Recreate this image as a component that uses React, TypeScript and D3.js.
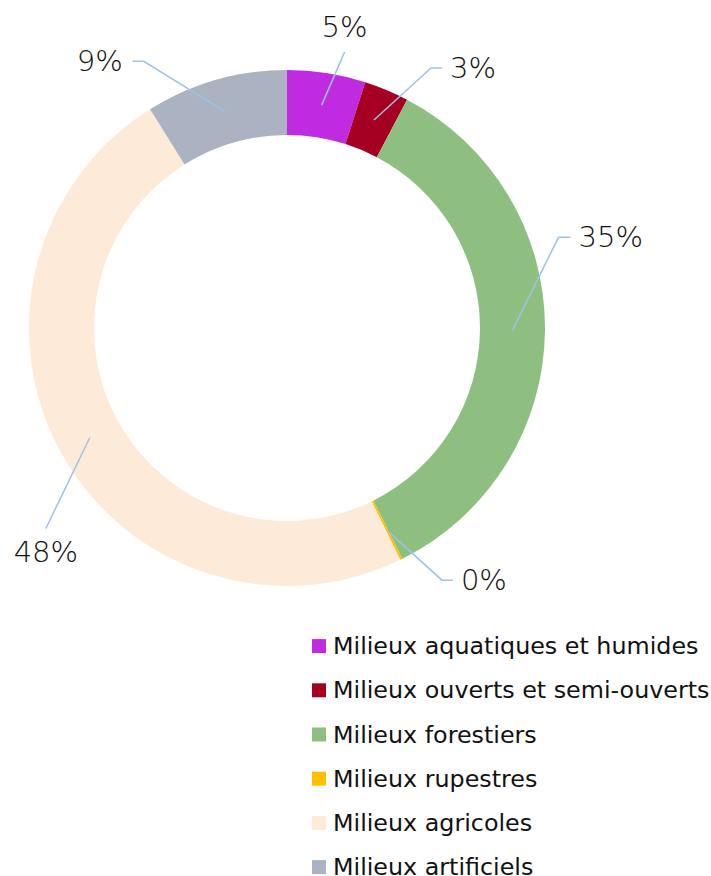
import { useMemo } from "react";
import { arc, pie, PieArcDatum, scaleBand, scaleOrdinal } from "d3";

const totalWidth = 711;
const totalHeight = 876;
const cx = 287;
const cy = 328;
const outerRadius = 258;
const innerRadius = 193;

// share of each habitat type (%)
const categories = [
  "Milieux aquatiques et humides",
  "Milieux ouverts et semi-ouverts",
  "Milieux forestiers",
  "Milieux rupestres",
  "Milieux agricoles",
  "Milieux artificiels",
];
const values = [4.9, 2.8, 34.9, 0.15, 48.3, 8.9];
const valueLabels = ["5%", "3%", "35%", "0%", "48%", "9%"];
const colors = ["#c02be1", "#a50021", "#8fbf80", "#ffc000", "#feead8", "#abb2c2"];

// leader line layout: elbow offset from the slice centroid, tail length, text side
type LabelLayout = { dx: number; dy: number; tail: number; side: "top" | "bottom" | "left" | "right" };
const labelLayout: LabelLayout[] = [
  { dx: 23, dy: -53, tail: 0, side: "top" },
  { dx: 57, dy: -52, tail: 11, side: "right" },
  { dx: 46, dy: -93, tail: 12, side: "right" },
  { dx: 55, dy: 50, tail: 11, side: "right" },
  { dx: -44, dy: 91, tail: 0, side: "bottom" },
  { dx: -81, dy: -50, tail: -11, side: "left" },
];

const leaderColor = "#9dc3e6";
const labelFont = "'DejaVu Sans', sans-serif";

export default function App() {
  const { arcs, arcPath, color, legendY } = useMemo(() => {
    const pieGen = pie<number>().sort(null).value((d) => d);
    const arcs = pieGen(values);
    const arcPath = arc<PieArcDatum<number>>()
      .innerRadius(innerRadius)
      .outerRadius(outerRadius);
    const color = scaleOrdinal<string, string>().domain(categories).range(colors);
    const legendY = scaleBand<string>()
      .domain(categories)
      .range([624, 624 + 44.2 * categories.length]);
    return { arcs, arcPath, color, legendY };
  }, []);

  return (
    <svg
      width={totalWidth}
      height={totalHeight}
      viewBox={`0 0 ${totalWidth} ${totalHeight}`}
      style={{ position: "absolute", left: 0, top: 0, background: "white" }}
    >
      <g transform={`translate(${cx}, ${cy})`}>
        {arcs.map((a, i) => (
          <path key={categories[i]} d={arcPath(a) ?? ""} fill={color(categories[i])} />
        ))}
        {arcs.map((a, i) => {
          const [sx, sy] = arcPath.centroid(a);
          const l = labelLayout[i];
          const ex = sx + l.dx;
          const ey = sy + l.dy;
          const tx = ex + l.tail;
          let textX = tx;
          let textY = ey;
          let anchor: "start" | "middle" | "end" = "middle";
          if (l.side === "top") textY = ey - 25;
          if (l.side === "bottom") textY = ey + 24;
          if (l.side === "right") {
            textX = tx + 8;
            anchor = "start";
          }
          if (l.side === "left") {
            textX = tx - 10;
            anchor = "end";
          }
          return (
            <g key={`label-${i}`}>
              <polyline
                points={`${sx},${sy} ${ex},${ey} ${tx},${ey}`}
                fill="none"
                stroke={leaderColor}
                strokeWidth={1.5}
              />
              <text
                x={textX}
                y={textY}
                textAnchor={anchor}
                dominantBaseline="central"
                fontFamily={labelFont}
                fontWeight={200}
                fontSize={29}
                fill="#111"
              >
                {valueLabels[i]}
              </text>
            </g>
          );
        })}
      </g>
      <g>
        {categories.map((c) => {
          const y = (legendY(c) ?? 0) + legendY.bandwidth() / 2;
          return (
            <g key={c}>
              <rect x={312} y={y - 7} width={14} height={14} fill={color(c)} />
              <text
                x={333}
                y={y}
                dominantBaseline="central"
                fontFamily={labelFont}
                fontSize={23.8}
                fill="#111"
              >
                {c}
              </text>
            </g>
          );
        })}
      </g>
    </svg>
  );
}
